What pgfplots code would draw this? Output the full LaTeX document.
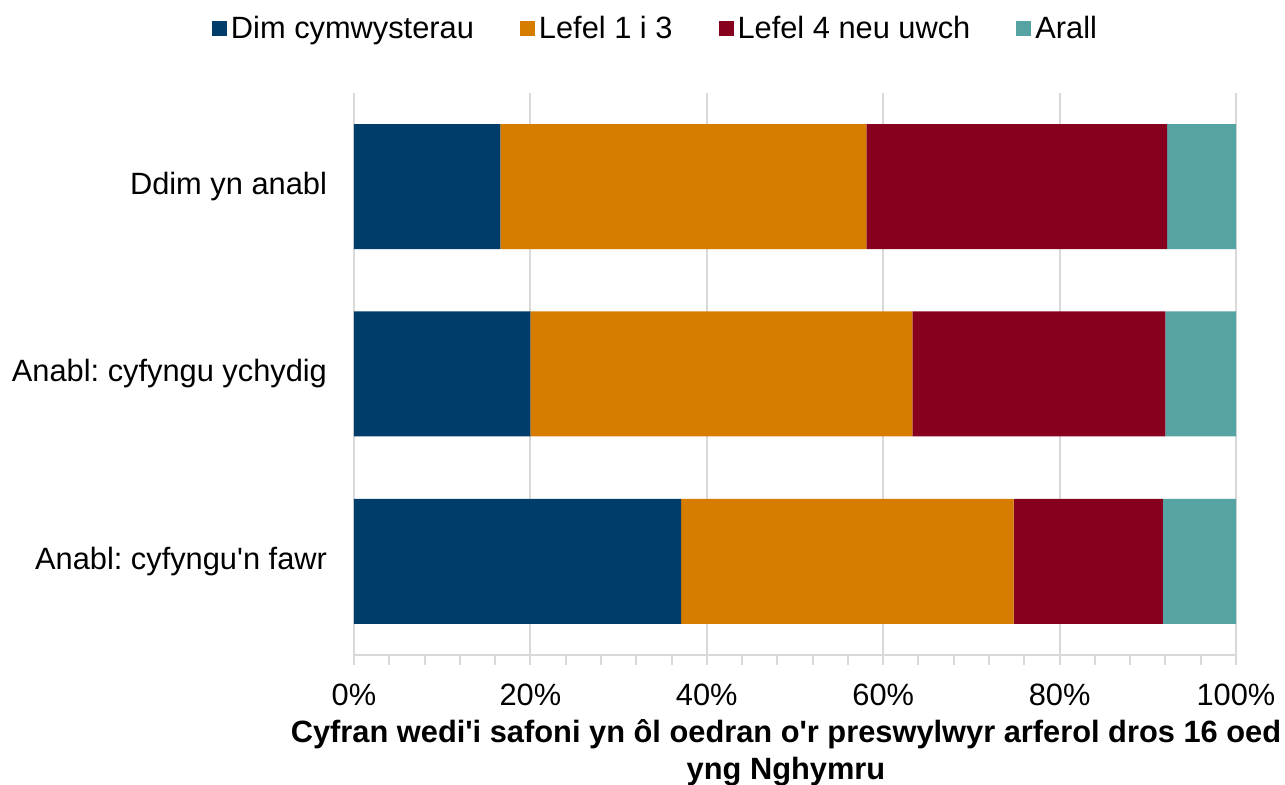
\documentclass[border=0pt]{standalone}
\usepackage{fontspec}
\setmainfont{Liberation Sans}
\usepackage{pgfplots}
\pgfplotsset{compat=1.18}
\definecolor{cnavy}{HTML}{003D6A}
\definecolor{corange}{HTML}{D67D00}
\definecolor{cred}{HTML}{87001E}
\definecolor{cteal}{HTML}{56A3A4}
\definecolor{cgrid}{HTML}{D9D9D9}
\frenchspacing

\begin{document}
\begin{tikzpicture}
\begin{axis}[
  at={(0,0)}, anchor=south west,
  scale only axis, width=441pt, height=281pt,
  xbar stacked, bar width=62.5pt,
  xmin=0, xmax=100,
  ymin=-0.5, ymax=2.5, y dir=reverse,
  ytick={0,1,2},
  yticklabels={Ddim yn anabl, Anabl: cyfyngu ychydig, Anabl: cyfyngu\textquotesingle n fawr},
  xtick={0,20,40,60,80,100},
  xticklabels={0\%,20\%,40\%,60\%,80\%,100\%},
  minor x tick num=4,
  axis lines*=left,
  axis line style={cgrid, line width=1pt},
  xmajorgrids, grid style={cgrid, line width=1pt},
  x tick style={cgrid, line width=1pt},
  tick align=outside, major tick length=5pt, minor tick length=5pt,
  y tick style={draw=none},
  tick label style={font=\fontsize{15.4}{17}\selectfont},
  y tick label style={xshift=-5pt},
  x tick label style={yshift=-6pt},
  xlabel={Cyfran wedi\textquotesingle i safoni yn ôl oedran o\textquotesingle r preswylwyr arferol dros 16 oed\\yng Nghymru},
  xlabel style={font=\fontsize{15.4}{18.5}\selectfont\bfseries, align=center, xshift=-4.5pt, yshift=0pt},
  legend style={at={(0.343,1.115)}, anchor=center, legend columns=4, draw=none,
    font=\fontsize{15.4}{17}\selectfont,
    /tikz/every even column/.append style={column sep=21pt},
    /tikz/every odd column/.append style={column sep=0pt}},
  legend image code/.code={\fill[#1] (0pt,-3.75pt) rectangle (7.5pt,3.75pt);},
  every axis plot/.append style={draw=none},
]
\addplot[fill=cnavy] coordinates {(16.6,0) (20.0,1) (37.1,2)};
\addplot[fill=corange] coordinates {(41.5,0) (43.3,1) (37.7,2)};
\addplot[fill=cred] coordinates {(34.1,0) (28.7,1) (16.9,2)};
\addplot[fill=cteal] coordinates {(7.8,0) (8.0,1) (8.3,2)};
\legend{Dim cymwysterau, Lefel 1 i 3, Lefel 4 neu uwch, Arall}
\end{axis}
\pgfresetboundingbox
\path (-177pt,-65pt) rectangle (465.5pt,327.5pt);
\end{tikzpicture}
\end{document}
